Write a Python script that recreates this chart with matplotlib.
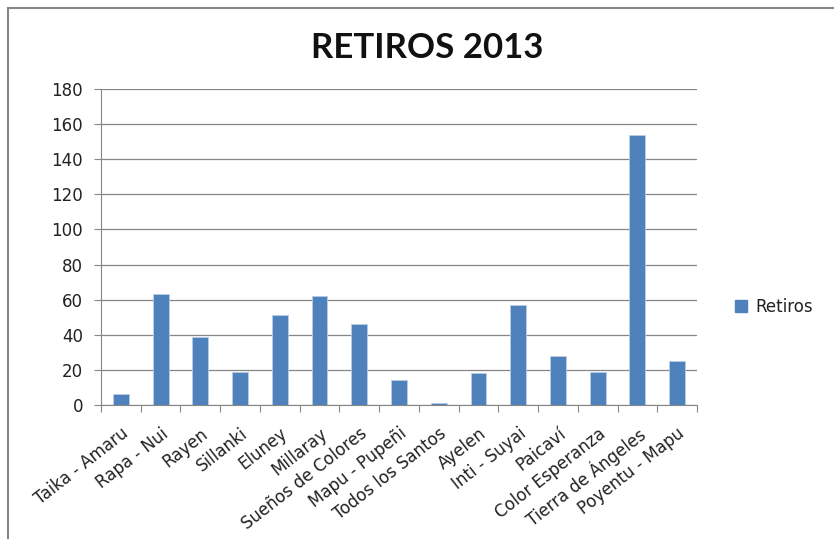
import matplotlib.pyplot as plt
from matplotlib.lines import Line2D

plt.rcParams['font.family'] = ['DejaVu Sans']

# datos
jardines = ["Taika - Amaru", "Rapa - Nui", "Rayen", "Sillanki", "Eluney",
            "Millaray", "Sueños de Colores", "Mapu - Pupeñi", "Todos los Santos",
            "Ayelen", "Inti - Suyai", "Paicaví", "Color Esperanza",
            "Tierra de Ángeles", "Poyentu - Mapu"]
retiros = [6, 63, 39, 19, 51, 62, 46, 14, 1, 18, 57, 28, 19, 154, 25]
y_ticks = [0, 20, 40, 60, 80, 100, 120, 140, 160, 180]

azul = "#4F81BD"
gris = "#868686"
texto = "#222222"

fig = plt.figure(figsize=(8.34, 5.39), dpi=100)
ax = fig.add_axes([101 / 834, 134 / 539, 596 / 834, 316 / 539])

x = range(len(jardines))
ax.bar(x, retiros, width=0.4, color=azul, edgecolor="#B9CDE5", linewidth=0.6,
       zorder=3, label="Retiros")

ax.set_xlim(-0.5, len(jardines) - 0.5)
ax.set_ylim(0, 180)
ax.set_yticks(y_ticks)
ax.set_yticklabels([str(v) for v in y_ticks], fontsize=12, color=texto)
ax.yaxis.grid(True, color=gris, linewidth=0.9, zorder=0)

# marcas del eje x entre categorias
ax.set_xticks([i - 0.5 for i in range(len(jardines) + 1)], minor=False)
ax.set_xticklabels([""] * (len(jardines) + 1))
ax.set_xticks(list(x), minor=True)
ax.set_xticklabels(jardines, minor=True, rotation=38, ha="right",
                   rotation_mode="anchor", fontsize=12, color=texto)
ax.tick_params(axis="x", which="minor", length=0, pad=14)
ax.tick_params(axis="x", which="major", length=5, color=gris)
ax.tick_params(axis="y", length=5, color=gris, pad=8)

for s in ["top", "right"]:
    ax.spines[s].set_visible(False)
for s in ["left", "bottom"]:
    ax.spines[s].set_color(gris)

fig.text(0.512, 0.911, "RETIROS 2013", ha="center", va="center",
         fontsize=25, fontweight="bold", color="#111111", family="Lato")

handle = Line2D([], [], marker="s", linestyle="none", markersize=9,
                markerfacecolor=azul, markeredgecolor=azul)
fig.legend([handle], ["Retiros"], loc="center left",
           bbox_to_anchor=(718 / 834, 1 - 307 / 539), frameon=False,
           fontsize=12, handlelength=1, handletextpad=0.35, labelcolor=texto)

# borde del area del grafico
fig.add_artist(Line2D([8 / 834, 8 / 834], [0, 1 - 8 / 539], color=gris,
                      linewidth=1.5, transform=fig.transFigure))
fig.add_artist(Line2D([8 / 834, 1], [1 - 8 / 539, 1 - 8 / 539], color=gris,
                      linewidth=1.5, transform=fig.transFigure))

fig.savefig("out.png", dpi=100)
